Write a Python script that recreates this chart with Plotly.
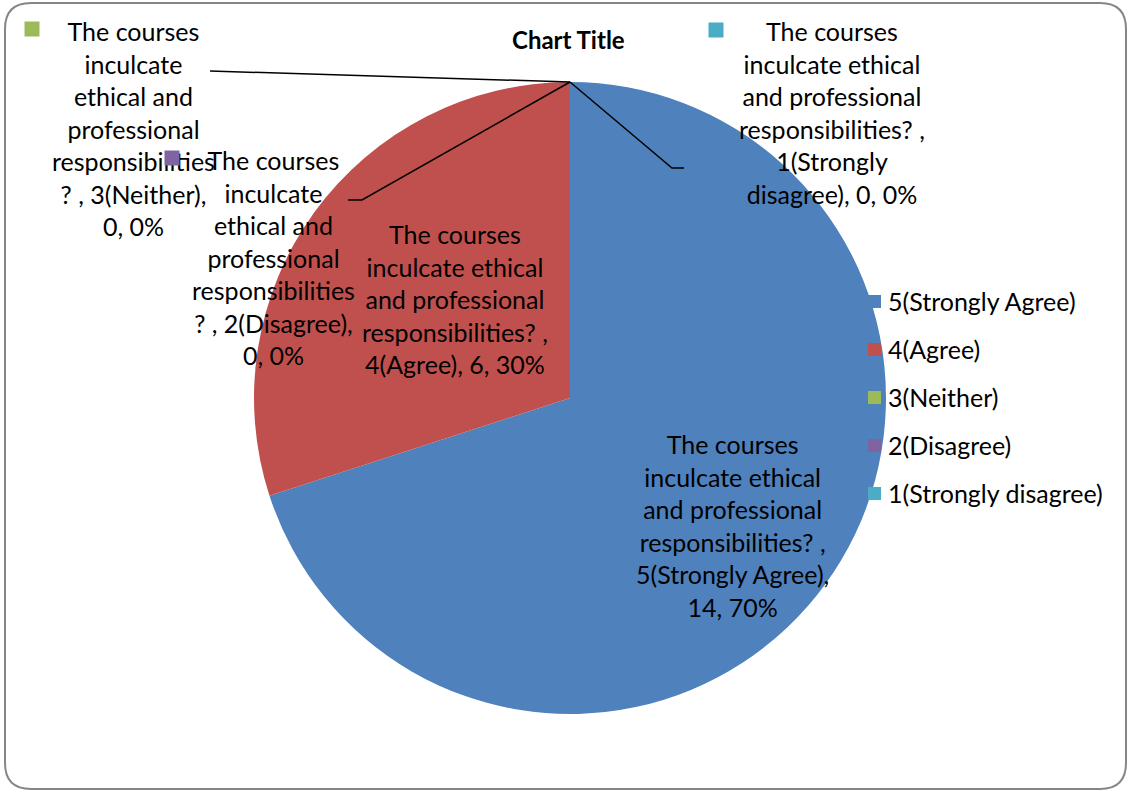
"""Pie chart: ethical and professional responsibilities survey."""

import plotly.graph_objects as go

W, H = 1130, 792

categories = ["5(Strongly Agree)", "4(Agree)", "3(Neither)", "2(Disagree)", "1(Strongly disagree)"]
counts = [14, 6, 0, 0, 0]
colors = ["#4F81BD", "#C0504D", "#9BBB59", "#8064A2", "#4BACC6"]

# data label texts, wrapped like the original
label_texts = [
    "The courses<br>inculcate ethical<br>and professional<br>responsibilities? ,<br>5(Strongly Agree),<br>14, 70%",
    "The courses<br>inculcate ethical<br>and professional<br>responsibilities? ,<br>4(Agree), 6, 30%",
    "The courses<br>inculcate<br>ethical and<br>professional<br>responsibilities<br>? , 3(Neither),<br>0, 0%",
    "The courses<br>inculcate<br>ethical and<br>professional<br>responsibilities<br>? , 2(Disagree),<br>0, 0%",
    "The courses<br>inculcate ethical<br>and professional<br>responsibilities? ,<br>1(Strongly<br>disagree), 0, 0%",
]
# label centres (px) and whether a legend key is shown next to it
label_pos = [(732, 525), (455, 299), (133, 128), (273, 258), (832, 112)]
key_pos = [None, None, (32, 29), (172, 158), (716, 30)]
# leader lines for the zero slices: (end x, end y, horizontal tail x)
leaders = {2: (210, 71, 210), 3: (362, 200, 348), 4: (672, 168, 684)}

FONT = "Lato, Carlito, Calibri, sans-serif"
FS = 25

cx, cy, r = 570, 398, 316


def px(x):
    return x / W


def py(y):
    return 1 - y / H


fig = go.Figure()
fig.add_trace(
    go.Pie(
        labels=categories,
        values=counts,
        marker=dict(colors=colors, line=dict(width=0)),
        sort=False,
        direction="clockwise",
        rotation=0,
        textinfo="none",
        hoverinfo="label+value+percent",
        showlegend=False,
        domain=dict(x=[px(cx - r), px(cx + r)], y=[py(cy + r), py(cy - r)]),
    )
)

shapes = []
annotations = []

# rounded chart border
x0, y0, x1, y1, rr = px(5), py(3), px(1126), py(789), 26
path = (
    f"M {px(5 + rr)},{y0} L {px(1126 - rr)},{y0} Q {x1},{y0} {x1},{py(3 + rr)} "
    f"L {x1},{py(789 - rr)} Q {x1},{y1} {px(1126 - rr)},{y1} "
    f"L {px(5 + rr)},{y1} Q {x0},{y1} {x0},{py(789 - rr)} "
    f"L {x0},{py(3 + rr)} Q {x0},{y0} {px(5 + rr)},{y0} Z"
)
shapes.append(dict(type="path", xref="paper", yref="paper", path=path,
                   line=dict(color="#868686", width=2), layer="below"))

# leader lines from the pie top to the zero-value labels
top_x, top_y = cx, cy - r
for i, (ex, ey, tx) in leaders.items():
    shapes.append(dict(
        type="path", xref="paper", yref="paper",
        path=f"M {px(top_x)},{py(top_y)} L {px(ex)},{py(ey)} L {px(tx)},{py(ey)}",
        line=dict(color="black", width=1.5),
    ))

for i, text in enumerate(label_texts):
    lx, ly = label_pos[i]
    annotations.append(dict(
        x=px(lx), y=py(ly), xref="paper", yref="paper", text=text,
        showarrow=False, xanchor="center", yanchor="middle",
        font=dict(family=FONT, size=FS, color="black"),
    ))

# legend keys inside data labels, drawn over the label text
for i, kp in enumerate(key_pos):
    if kp:
        kx, ky = kp
        annotations.append(dict(
            x=px(kx), y=py(ky), xref="paper", yref="paper", text=" ",
            showarrow=False, xanchor="center", yanchor="middle",
            width=14, height=14, borderpad=0, bgcolor=colors[i],
            font=dict(size=4),
        ))

# legend on the right
for i, cat in enumerate(categories):
    ly = 301 + 48 * i
    shapes.append(dict(type="rect", xref="paper", yref="paper",
                       x0=px(868), x1=px(881), y0=py(ly + 7), y1=py(ly - 6),
                       fillcolor=colors[i], line=dict(width=0)))
    annotations.append(dict(
        x=px(886), y=py(ly), xref="paper", yref="paper", text=cat,
        showarrow=False, xanchor="left", yanchor="middle",
        font=dict(family=FONT, size=FS, color="black"),
    ))

annotations.append(dict(
    x=px(568), y=py(40), xref="paper", yref="paper", text="<b>Chart Title</b>",
    showarrow=False, xanchor="center", yanchor="middle",
    font=dict(family=FONT, size=FS - 1, color="black"),
))

fig.update_layout(
    width=W,
    height=H,
    margin=dict(l=0, r=0, t=0, b=0),
    paper_bgcolor="white",
    plot_bgcolor="white",
    shapes=shapes,
    annotations=annotations,
)

# drop the browser's default body margin so the chart sits at the page origin
fig.write_html(
    "out.html",
    config={"displayModeBar": False},
    post_script="document.body.style.margin='0';",
)
